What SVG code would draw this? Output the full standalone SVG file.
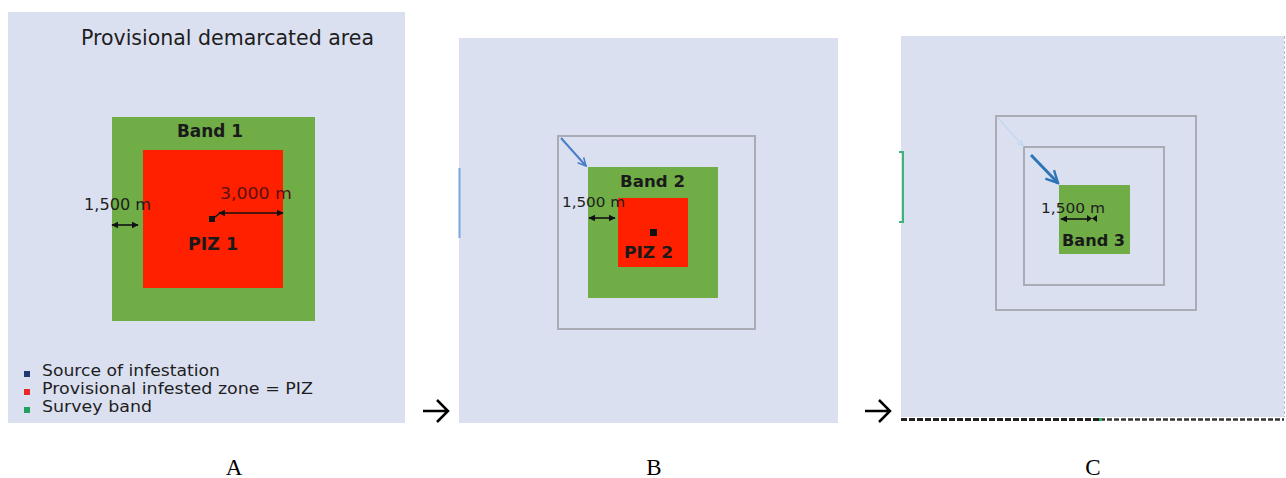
<svg xmlns="http://www.w3.org/2000/svg" width="1286" height="478" viewBox="0 0 1286 478">
<style>
.bg{fill:#dbe0f1}
.band{fill:#70ad47}
.piz{fill:#ff2000}
.ring{fill:none;stroke:#a9acb5;stroke-width:2}
.t{font-family:"DejaVu Sans",Verdana,sans-serif;fill:#1e1e1e}
.b{font-family:"DejaVu Sans",Verdana,sans-serif;font-weight:bold;fill:#1a1a1a}
.lab{font-family:"Liberation Serif","Times New Roman",serif;font-size:23px;fill:#000}
.dim{stroke:#111;stroke-width:1.6;fill:none}
</style>
<defs>
<marker id="ah" viewBox="0 0 10 10" refX="9" refY="5" markerWidth="4.5" markerHeight="4.5" orient="auto-start-reverse">
<path d="M0,0 L10,5 L0,10 z" fill="#111"/>
</marker>
<marker id="bh" viewBox="0 0 10 10" refX="9" refY="5" markerWidth="5" markerHeight="5" orient="auto">
<path d="M1,1 L9,5 L1,9" fill="none" stroke="context-stroke" stroke-width="1.6"/>
</marker>
</defs>
<rect width="1286" height="478" fill="#fff"/>

<g id="panelA">
<rect class="bg" x="8" y="12" width="397" height="411"/>
<text class="t" x="81" y="45" font-size="22" textLength="293" lengthAdjust="spacingAndGlyphs">Provisional demarcated area</text>
<g id="band1">
<rect class="band" x="112" y="117" width="203" height="204"/>
<text class="b" x="177" y="137" font-size="17" textLength="66" lengthAdjust="spacingAndGlyphs">Band 1</text>
</g>
<g id="piz1">
<rect class="piz" x="143" y="150" width="140" height="138"/>
<rect x="209" y="216" width="6" height="6" fill="#111"/>
<text class="b" x="188" y="250" font-size="17" textLength="50" lengthAdjust="spacingAndGlyphs">PIZ 1</text>
</g>
<text class="t" x="84" y="210" font-size="15" textLength="67" lengthAdjust="spacingAndGlyphs">1,500 m</text>
<text class="t" x="220" y="199" font-size="15" style="fill:#5a1010" textLength="72" lengthAdjust="spacingAndGlyphs">3,000 m</text>
<g id="legend">
<rect x="24" y="371" width="6" height="6" fill="#1f3a70"/>
<rect x="24" y="389" width="6" height="6" fill="#e8282a"/>
<rect x="24" y="407" width="6" height="6" fill="#22a060"/>
<text class="t" x="42" y="376" font-size="15" textLength="178" lengthAdjust="spacingAndGlyphs">Source of infestation</text>
<text class="t" x="42" y="394" font-size="15" textLength="271" lengthAdjust="spacingAndGlyphs">Provisional infested zone = PIZ</text>
<text class="t" x="42" y="412" font-size="15" textLength="110" lengthAdjust="spacingAndGlyphs">Survey band</text>
</g>
</g>

<g id="panelB">
<rect class="bg" x="459" y="38" width="379" height="385"/>
<path d="M459.5,168 V238" stroke="#7aa6dc" stroke-width="2"/>
<rect class="ring" x="558" y="136" width="197" height="193"/>
<g id="band2">
<rect class="band" x="588" y="167" width="130" height="131"/>
<text class="b" x="620" y="187" font-size="16" textLength="65" lengthAdjust="spacingAndGlyphs">Band 2</text>
</g>
<g id="piz2">
<rect class="piz" x="618" y="198" width="70" height="69"/>
<rect x="650" y="229" width="7" height="7" fill="#111"/>
<text class="b" x="624" y="258" font-size="16" textLength="49" lengthAdjust="spacingAndGlyphs">PIZ 2</text>
</g>
<text class="t" x="562" y="207" font-size="14" textLength="63" lengthAdjust="spacingAndGlyphs">1,500 m</text>
</g>

<g id="panelC">
<rect class="bg" x="901" y="36" width="383" height="381"/>
<path d="M1284.5,36 V417" stroke="#b8bcc6" stroke-width="1" stroke-dasharray="3 2"/>
<path d="M899,152 H903 V222 H899" fill="none" stroke="#3cb37a" stroke-width="2"/>
<path d="M901,419.5 H1100" stroke="#222" stroke-width="3" stroke-dasharray="6 2"/>
<path d="M1100,419.5 H1284" stroke="#333" stroke-width="2.5" stroke-dasharray="5 2"/>
<rect x="1099" y="418" width="3" height="3" fill="#2fae5a"/>
<rect class="ring" x="996" y="116" width="200" height="194"/>
<rect class="ring" x="1024" y="147" width="140" height="138"/>
<g id="band3">
<rect class="band" x="1059" y="185" width="71" height="69"/>
<text class="b" x="1062" y="246" font-size="16" textLength="63" lengthAdjust="spacingAndGlyphs">Band 3</text>
</g>
<text class="t" x="1041" y="213" font-size="14" textLength="64" lengthAdjust="spacingAndGlyphs">1,500 m</text>
</g>

<g id="connectors">
<line class="dim" x1="112" y1="225" x2="138" y2="225" stroke-width="2" marker-start="url(#ah)" marker-end="url(#ah)"/>
<path class="dim" d="M215,217 L220,213" stroke-width="2"/>
<line class="dim" x1="219" y1="213" x2="283" y2="213" marker-start="url(#ah)" marker-end="url(#ah)"/>
<line class="dim" x1="589" y1="218" x2="615" y2="218" stroke-width="2" marker-start="url(#ah)" marker-end="url(#ah)"/>
<line class="dim" x1="1061" y1="219" x2="1088" y2="219" marker-start="url(#ah)"/>
<path d="M1087,215 L1097,222 L1097,215 L1087,222 z" fill="#111"/>
<line x1="561" y1="138" x2="586" y2="166" stroke="#4a7cc7" stroke-width="2" marker-end="url(#bh)"/>
<line x1="997" y1="117" x2="1023" y2="146" stroke="#c3d8ef" stroke-width="1.5" marker-end="url(#bh)"/>
<line x1="1031" y1="155" x2="1058" y2="183" stroke="#2e75b6" stroke-width="3" marker-end="url(#bh)"/>
<path d="M423,411 H447 M437,400 L448,411 L437,422" fill="none" stroke="#000" stroke-width="2.5"/>
<path d="M865,411 H889 M879,400 L890,411 L879,422" fill="none" stroke="#000" stroke-width="2.5"/>
</g>

<text class="lab" x="234" y="475" text-anchor="middle">A</text>
<text class="lab" x="654" y="475" text-anchor="middle">B</text>
<text class="lab" x="1093" y="475" text-anchor="middle">C</text>
</svg>
